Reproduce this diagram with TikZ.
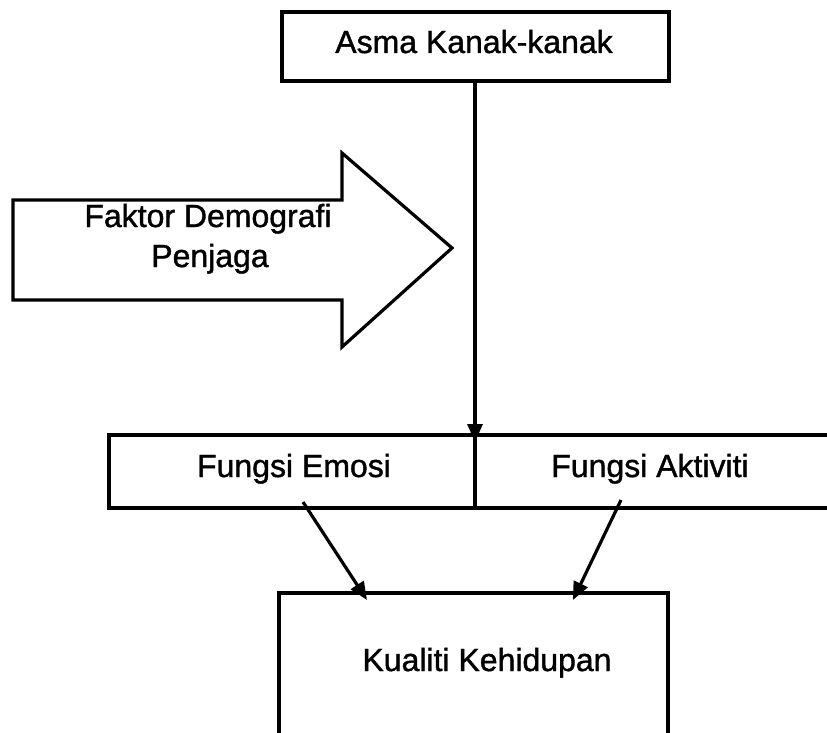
\documentclass[tikz,border=0pt]{standalone}
\usepackage{fontspec}
\setmainfont{Liberation Sans}
\newfontfamily\diagfont{Liberation Sans}[FakeBold=1.2]
\usetikzlibrary{arrows.meta}
\begin{document}
\begin{tikzpicture}[x=1pt,y=-1pt,
  boxline/.style={line width=3.2pt, line join=miter},
  conn/.style={line width=3.2pt, -{Triangle[length=18pt,width=15pt]}},
  lbl/.style={anchor=base, inner sep=0pt, font=\diagfont\fontsize{32}{40}\selectfont}]
\useasboundingbox (0,0) rectangle (827,733);
% top box
\draw[boxline] (282,12) rectangle (669,81);
\node[lbl] (asma) at (474,53) {Asma Kanak-kanak};
\coordinate (topout) at (475,81);
% big arrow
\draw[boxline] (13,200) -- (342,200) -- (342,153) -- (452,248) -- (342,347) -- (342,300) -- (13,300) -- cycle;
\node[lbl] (faktor1) at (208,227) {Faktor Demografi};
\node[lbl] (faktor2) at (210,267) {Penjaga};
% middle box
\draw[boxline] (840,435) -- (109,435) -- (109,508) -- (840,508);
\draw[boxline] (475,435) -- (475,508);
\coordinate (midin) at (475,442);
\node[lbl] (emosi) at (294,477) {Fungsi Emosi};
\node[lbl] (aktiviti) at (650,477) {Fungsi Aktiviti};
\coordinate (emosiout) at (303,502);
\coordinate (aktivitiout) at (621,500);
% bottom box
\draw[boxline] (279,745) -- (279,593) -- (668,593) -- (668,745);
\node[lbl] (kualiti) at (487,671) {Kualiti Kehidupan};
\coordinate (kin1) at (367,600);
\coordinate (kin2) at (573,600);
% connectors
\draw[conn] (topout) -- (midin);
\draw[conn] (emosiout) -- (kin1);
\draw[conn] (aktivitiout) -- (kin2);
\end{tikzpicture}
\end{document}
